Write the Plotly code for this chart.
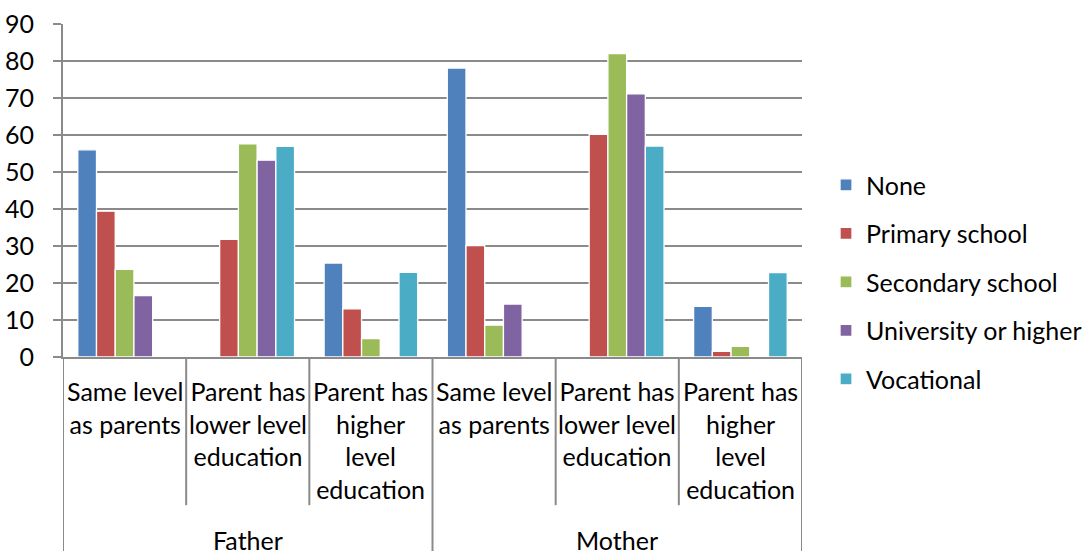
import plotly.graph_objects as go

parents = ["Father", "Mother"]
levels = ["Same level<br>as parents", "Parent has<br>lower level<br>education", "Parent has<br>higher<br>level<br>education"]
categories = [f"{p}|{i}" for p in parents for i in range(len(levels))]
series_names = ["None", "Primary school", "Secondary school", "University or higher", "Vocational"]
colors = ["#4F81BD", "#C0504D", "#9BBB59", "#8064A2", "#4BACC6"]

none_vals = [56, 0, 25.4, 78.1, 0, 13.7]
primary_vals = [39.4, 31.8, 13.0, 30.1, 60.2, 1.5]
secondary_vals = [23.7, 57.6, 5.0, 8.6, 82.0, 2.9]
university_vals = [16.6, 53.2, 0, 14.3, 71.1, 0]
vocational_vals = [0, 56.9, 22.9, 0, 57.0, 22.8]
series_vals = [none_vals, primary_vals, secondary_vals, university_vals, vocational_vals]

y_ticks = [0, 10, 20, 30, 40, 50, 60, 70, 80, 90]

FONT = "Lato"
FS = 25
GRID = "#8A8A8A"
LW = 2

fig = go.Figure()
for name, vals, col in zip(series_names, series_vals, colors):
    fig.add_trace(go.Bar(
        x=categories, y=vals, name=name, legendgroup=name,
        marker=dict(color=col, line=dict(color="white", width=1.3)),
    ))

annotations = []
for ci, cat in enumerate(categories):
    annotations.append(dict(
        x=cat, xref="x", y=-0.05, yref="paper", yanchor="top", xanchor="center",
        text=levels[ci % len(levels)], showarrow=False, align="center",
        font=dict(family=FONT, size=FS, color="black"),
    ))
for pi, p in enumerate(parents):
    annotations.append(dict(
        x=pi * len(levels) + (len(levels) - 1) / 2, xref="x", y=-0.498, yref="paper",
        yanchor="top", xanchor="center", text=p, showarrow=False,
        font=dict(family=FONT, size=FS, color="black"),
    ))

shapes = []
n = len(categories)
for k in range(n + 1):
    xpos = k - 0.5
    outer = (k % len(levels) == 0)
    shapes.append(dict(
        type="line", xref="x", yref="paper", x0=xpos, x1=xpos, y0=0,
        y1=-0.62 if outer else -0.445, line=dict(color=GRID, width=LW),
    ))

fig.update_layout(
    width=1082, height=551,
    margin=dict(l=63, r=280, t=24, b=194, autoexpand=False),
    paper_bgcolor="white", plot_bgcolor="white",
    barmode="group", bargap=0.24, bargroupgap=0,
    font=dict(family=FONT, size=FS, color="black"),
    showlegend=True,
    legend=dict(x=1.0325, xanchor="left", y=0.225, yanchor="middle",
                font=dict(family=FONT, size=FS, color="black"),
                tracegroupgap=13, bgcolor="rgba(0,0,0,0)"),
    annotations=annotations, shapes=shapes,
)
fig.update_xaxes(type="category", showticklabels=False, showgrid=False,
                 showline=True, linecolor=GRID, linewidth=LW, ticks="",
                 range=[-0.5, n - 0.5], automargin=False)
fig.update_yaxes(range=[0, 90], tickvals=y_ticks, showgrid=True, gridcolor=GRID,
                 gridwidth=LW, showline=True, linecolor=GRID, linewidth=LW,
                 ticks="outside", ticklen=8, tickcolor=GRID, tickwidth=LW,
                 ticklabelstandoff=14, zeroline=False, automargin=False,
                 tickfont=dict(family=FONT, size=FS, color="black"))

fig.write_html("out.html", config={"displayModeBar": False},
               post_script="document.body.style.margin='0';document.body.style.overflow='hidden';")
